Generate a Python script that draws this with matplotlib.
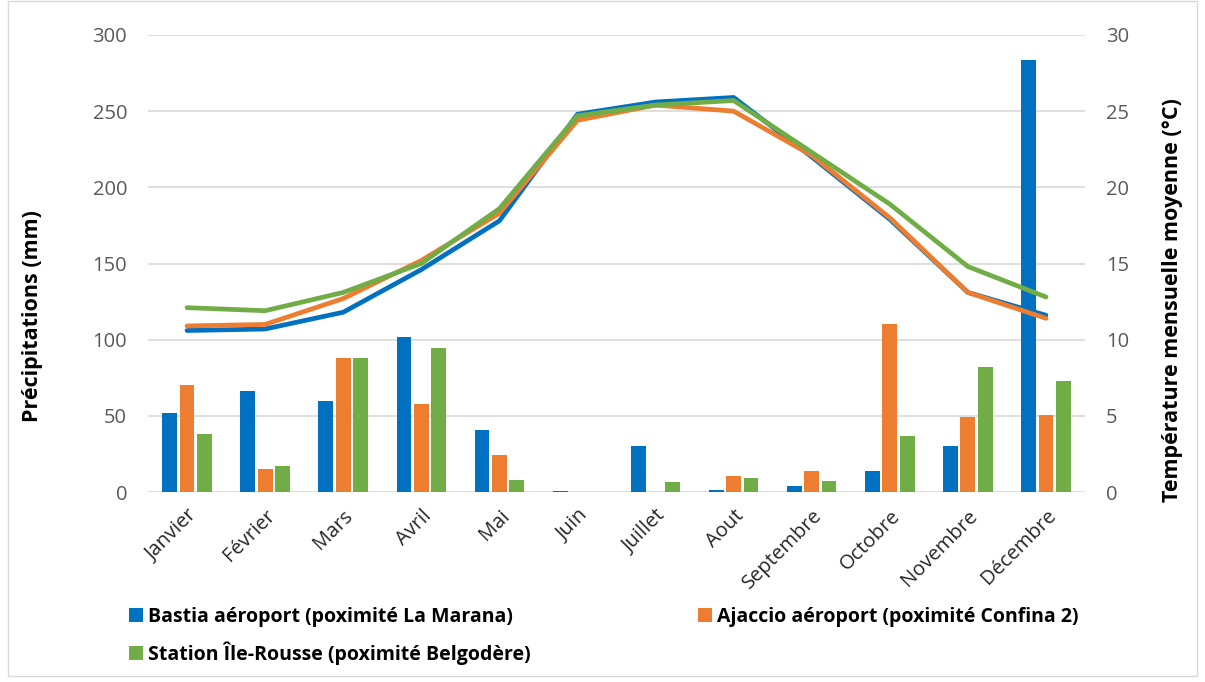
import matplotlib
matplotlib.use("Agg")
import matplotlib.pyplot as plt
from matplotlib.patches import Rectangle
import numpy as np

plt.rcParams['font.family'] = ['Open Sans', 'DejaVu Sans']

months = ["Janvier", "Février", "Mars", "Avril", "Mai", "Juin", "Juillet",
          "Aout", "Septembre", "Octobre", "Novembre", "Décembre"]

series_names = ["Bastia aéroport (poximité La Marana)",
                "Ajaccio aéroport (poximité Confina 2)",
                "Station Île-Rousse (poximité Belgodère)"]

precip_bastia = [52, 66, 60, 102, 41, 0.8, 30, 1, 4, 13.5, 30, 283.5]
precip_ajaccio = [70, 15, 88, 58, 24, 0, 0, 10.5, 14, 110, 49, 50.5]
precip_ile_rousse = [38, 17, 88, 94.5, 8, 0, 6.5, 9, 7, 36.5, 82, 73]

temp_bastia = [10.6, 10.7, 11.8, 14.6, 17.8, 24.8, 25.6, 25.9, 22.0, 17.9, 13.1, 11.6]
temp_ajaccio = [10.9, 11.0, 12.7, 15.2, 18.3, 24.4, 25.4, 25.0, 22.1, 18.0, 13.1, 11.4]
temp_ile_rousse = [12.1, 11.9, 13.1, 15.0, 18.6, 24.7, 25.4, 25.7, 22.3, 18.9, 14.8, 12.8]

colors = ["#0070C0", "#ED7D31", "#70AD47"]

W, H = 1205, 682
fig = plt.figure(figsize=(W / 100, H / 100), dpi=100)
L, R, T, B = 148, 1085, 35, 492
ax = fig.add_axes([L / W, 1 - B / H, (R - L) / W, (B - T) / H])
ax2 = ax.twinx()

x = np.arange(len(months))
w = 0.19
off = 0.222
bars = []
for i, (vals, c) in enumerate(zip([precip_bastia, precip_ajaccio, precip_ile_rousse], colors)):
    b = ax.bar(x + (i - 1) * off, vals, width=w, color=c, zorder=3)
    bars.append(b)

for vals, c in zip([temp_bastia, temp_ajaccio, temp_ile_rousse], colors):
    ax2.plot(x, vals, color=c, lw=3.4, solid_joinstyle='round', solid_capstyle='round', zorder=4)

ax.set_xlim(-0.5, 11.5)
ax.set_ylim(0, 300)
ax2.set_ylim(0, 30)
ax.set_yticks(np.arange(0, 301, 50))
ax2.set_yticks(np.arange(0, 31, 5))
ax.grid(axis='y', color='#D9D9D9', lw=1.2, zorder=0)
ax.set_axisbelow(True)
for a in (ax, ax2):
    for s in a.spines.values():
        s.set_visible(False)
    a.tick_params(length=0, labelsize=14.5, labelcolor='#595959')
ax.tick_params(axis='y', pad=15)
ax2.tick_params(axis='y', pad=15)

ax.set_xticks(x)
ax.set_xticklabels(months, rotation=45, ha='right', rotation_mode='anchor', fontsize=14.5, color='#262626')
ax.tick_params(axis='x', pad=10)

ax.set_ylabel("Précipitations (mm)", fontsize=15.5, fontweight='bold', color='black')
ax2.set_ylabel("Température mensuelle moyenne (°C)", fontsize=15.5, fontweight='bold', color='black')
ax.yaxis.set_label_coords((43 - L) / (R - L), (B - 316) / (B - T))
ax2.yaxis.set_label_coords((1162 - L) / (R - L), (B - 300) / (B - T))

lp = dict(frameon=False, prop={'weight': 'bold', 'size': 14}, handlelength=0.72, handleheight=0.72,
          handletextpad=0.25, labelspacing=0.75, borderpad=0, borderaxespad=0, loc='upper left')
leg1 = fig.legend([bars[0], bars[2]], [series_names[0], series_names[2]],
                  bbox_to_anchor=(129 / W, 1 - 607 / H), **lp)
leg2 = fig.legend([bars[1]], [series_names[1]],
                  bbox_to_anchor=(698 / W, 1 - 607 / H), **lp)

fig.patches.append(Rectangle((8 / W, 6 / H), (1197 - 8) / W, (681 - 6) / H, transform=fig.transFigure,
                             fill=False, edgecolor='#D9D9D9', lw=1))

fig.savefig("out.png", dpi=100)
